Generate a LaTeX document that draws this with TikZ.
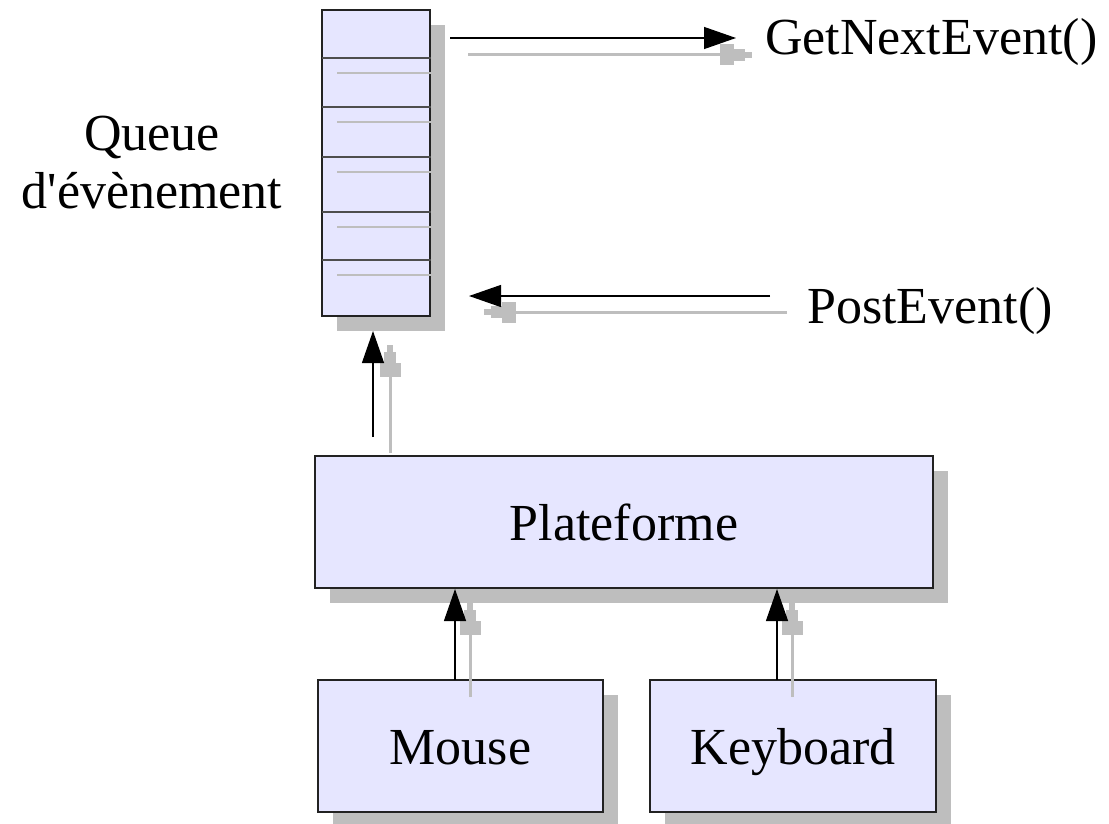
\documentclass[tikz,border=0pt]{standalone}
\usepackage{fontspec}
\setmainfont{Liberation Serif}
\usetikzlibrary{arrows.meta,shadows}
\definecolor{boxfill}{HTML}{E6E6FF}
\definecolor{shadowgray}{HTML}{BEBEBE}
\definecolor{edge}{HTML}{222222}
\newcommand{\bigtxt}{\fontsize{52}{58}\selectfont}
\begin{document}
\begin{tikzpicture}[x=1pt,y=-1pt,
  box/.style={draw=edge, line width=1.3pt, fill=boxfill, inner sep=0pt,
    font=\bigtxt, text height=36pt, text depth=0pt,
    drop shadow={shadow xshift=15pt, shadow yshift=-15pt, fill=shadowgray, opacity=1, draw=none}},
  label/.style={font=\bigtxt, inner sep=0pt},
  arr/.style={draw=black, line width=1.3pt, -{Triangle[length=32pt,width=22pt]}},
  sarr/.style={draw=shadowgray, fill=shadowgray, line width=3pt,
    -{Rectangle[length=14pt,width=21pt,sep=0pt]Rectangle[length=11pt,width=12pt,sep=0pt]Rectangle[length=7pt,width=6pt]}},
  divider/.style={draw=edge!80, line width=1.3pt},
  sdivider/.style={draw=shadowgray, line width=1.2pt}
]
\useasboundingbox (0,0) rectangle (1109,824);

% queue
\node[box, minimum width=108pt, minimum height=306pt] (queue) at (376,163) {};
\foreach \yy in {58,107,157,212,260} \draw[divider] (322,\yy) -- (431,\yy);
\foreach \yy in {73,122,172,227,275} \draw[sdivider] (337,\yy) -- (445,\yy);

\node[label, align=center] (qlabel) at (152,163) {Queue\\d\textquotesingle évènement};

% boxes
\node[box, minimum width=618pt, minimum height=132pt] (plat) at (624,522) {Plateforme};
\node[box, minimum width=285pt, minimum height=132pt] (mouse) at (460.5,746) {Mouse};
\node[box, minimum width=286pt, minimum height=132pt] (kbd) at (793,746) {Keyboard};

% labels
\node[label, anchor=base west] (gne) at (765,55) {GetNextEvent()};
\node[label, anchor=base west] (post) at (807,323) {PostEvent()};

% coordinates
\coordinate (g1) at (450,38);  \coordinate (g2) at (736,38);
\coordinate (gs1) at (468,55); \coordinate (gs2) at (752,55);
\coordinate (p1) at (770,296); \coordinate (p2) at (469,296);
\coordinate (ps1) at (787,312); \coordinate (ps2) at (484,312);
\coordinate (q1) at (373,437); \coordinate (q2) at (373,331);
\coordinate (qs1) at (390,453); \coordinate (qs2) at (390,345);
\coordinate (m1) at (455,680); \coordinate (m2) at (455,589);
\coordinate (ms1) at (470,697); \coordinate (ms2) at (470,603);
\coordinate (k1) at (777,680); \coordinate (k2) at (777,589);
\coordinate (ks1) at (792,697); \coordinate (ks2) at (792,603);

% shadow arrows
\draw[sarr] (gs1) -- (gs2);
\draw[sarr] (ps1) -- (ps2);
\draw[sarr] (qs1) -- (qs2);
\draw[sarr] (ms1) -- (ms2);
\draw[sarr] (ks1) -- (ks2);
% arrows
\draw[arr] (g1) -- (g2);
\draw[arr] (p1) -- (p2);
\draw[arr] (q1) -- (q2);
\draw[arr] (m1) -- (m2);
\draw[arr] (k1) -- (k2);
\end{tikzpicture}
\end{document}
